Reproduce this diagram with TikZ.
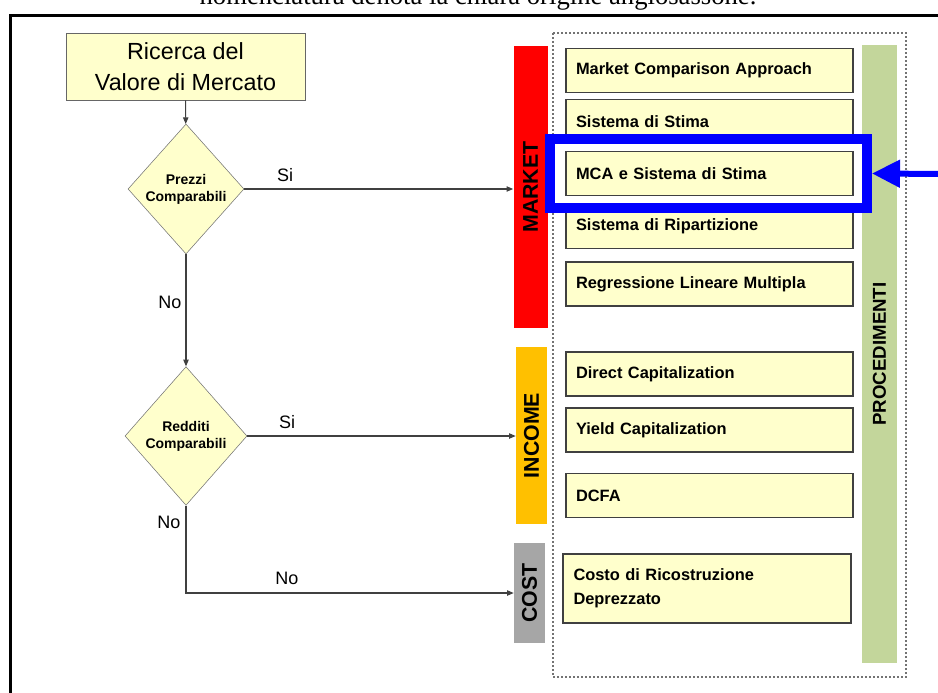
\documentclass[tikz,border=0pt]{standalone}
\usepackage{fontspec}
\setmainfont{Liberation Serif}
\setsansfont{Liberation Sans}
\usepackage{xcolor}
\usetikzlibrary{shapes.geometric,arrows.meta}

\definecolor{boxyellow}{HTML}{FFFFCC}
\definecolor{marketred}{HTML}{FF0000}
\definecolor{incomeorange}{HTML}{FFC000}
\definecolor{costgrey}{HTML}{A6A6A6}
\definecolor{procgreen}{HTML}{C3D69B}
\definecolor{hlblue}{HTML}{0000FF}

\tikzset{
  startbox/.style={draw=black!60, fill=boxyellow, minimum width=179.25pt, minimum height=50.25pt,
    align=center, font=\sffamily\fontsize{17.5}{23}\selectfont},
  decision/.style={diamond, draw=black!55, fill=boxyellow, inner sep=0pt, aspect=1, align=center,
    font=\sffamily\bfseries\fontsize{10.5}{12.75}\selectfont},
  methodbar/.style={rotate=90, inner sep=0pt, font=\sffamily\bfseries\fontsize{16}{16}\selectfont},
  procbox/.style={draw=black!75, line width=0.9pt, fill=boxyellow, minimum width=215.25pt, minimum height=33pt,
    text width=200.25pt, inner xsep=7.5pt, align=left, font=\sffamily\bfseries\fontsize{12.3}{18}\selectfont},
  flow/.style={draw=black!75, line width=0.8pt, -{Triangle[length=5pt,width=4pt]}},
  answer/.style={font=\sffamily\fontsize{13.5}{15}\selectfont}
}

\begin{document}
\begin{tikzpicture}[x=0.75pt,y=-0.75pt]

  \useasboundingbox (0,0) rectangle (938,692);
  \clip (0,0) rectangle (938,692);

  % Page text and frame
  \node[font=\rmfamily\fontsize{20}{24}\selectfont, anchor=base] (caption) at (478,5)
    {nomenclatura denota la chiara origine anglosassone.};
  \draw[line width=2.25pt] (10,700) -- (10,16) -- (945,16);

  % Flow on the left
  \node[startbox] (ricerca) at (185.5,66.5) {Ricerca del\\Valore di Mercato};
  \node[decision, minimum width=87pt, minimum height=97.5pt] (prezzi) at (186,189) {Prezzi\\Comparabili};
  \node[decision, minimum width=91.5pt, minimum height=104pt] (redditi) at (186,436) {Redditi\\Comparabili};

  % Dotted frame of the procedures
  \draw[black!55, line width=0.8pt, dash pattern=on 1.5pt off 1.5pt] (553,33) rectangle (906,677);

  % Bars
  \node[methodbar, fill=marketred, minimum width=211.5pt, minimum height=25.5pt] (market) at (530.5,187) {MARKET};
  \node[methodbar, fill=incomeorange, minimum width=132.75pt, minimum height=23.25pt] (income) at (531.5,435.5) {INCOME};
  \node[methodbar, fill=costgrey, minimum width=75pt, minimum height=23.25pt] (cost) at (529.5,593) {COST};
  \node[methodbar, fill=procgreen, minimum width=463.5pt, minimum height=26.25pt,
    font=\sffamily\bfseries\fontsize{14}{14}\selectfont] (procedimenti) at (879.5,354) {PROCEDIMENTI};

  % Procedures
  \foreach \y/\txt [count=\i] in {70.5/Market Comparison Approach, 121.5/Sistema di Stima,
      173.5/MCA e Sistema di Stima, 226.5/Sistema di Ripartizione,
      284/Regressione Lineare Multipla, 374/Direct Capitalization,
      430/Yield Capitalization, 495.5/DCFA}
  {
    \node[procbox] (proc\i) at (709.5,\y) {\txt};
  }
  \node[procbox, minimum width=216pt, minimum height=51.75pt] (proc9) at (707,588.5)
    {Costo di Ricostruzione\\Deprezzato};

  % Connectors
  \draw[flow] (ricerca) -- (prezzi);
  \draw[flow] (prezzi.east) -- (prezzi.east -| market.north);
  \draw[flow] (prezzi) -- (redditi);
  \draw[flow] (redditi.east) -- (redditi.east -| income.north);
  \draw[flow] (redditi.south) |- (cost.north);

  % Answers
  \node[answer] (si1) at (285,175) {Si};
  \node[answer] (no1) at (170,302) {No};
  \node[answer] (si2) at (287,422) {Si};
  \node[answer] (no2) at (169,522) {No};
  \node[answer] (no3) at (287,578) {No};

  % Highlight
  \node[draw=hlblue, line width=7.5pt, inner sep=0pt, minimum width=237.75pt, minimum height=51.75pt]
    (highlight) at (708.5,173.5) {};
  \coordinate (pointer) at (945,174);
  \draw[hlblue, line width=4.5pt, -{Triangle[length=21pt,width=20pt]}] (pointer) -- (highlight.east);

\end{tikzpicture}
\end{document}
